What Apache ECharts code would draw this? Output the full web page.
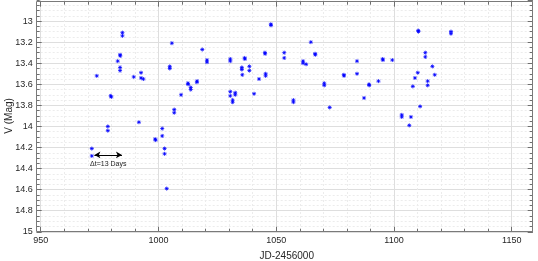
<!DOCTYPE html>
<html>
<head>
<meta charset="utf-8">
<script src="https://cdn.jsdelivr.net/npm/echarts@6/dist/echarts.min.js"></script>
<style>
html,body{margin:0;padding:0;background:#fff;}
#chart{width:538px;height:261px;}
</style>
</head>
<body>
<div id="chart"></div>
<script>
// Observation dates (JD-2456000)
const jd = [
  971.7, 971.7, 973.8, 979.7, 980.0, 978.5, 978.5, 982.7, 983.7, 983.8,
  983.7, 983.7, 984.7, 984.7, 989.5, 991.7, 992.6, 992.6, 993.6, 998.6,
  998.8, 1001.6, 1001.6, 1002.6, 1002.6, 1003.5, 1004.8, 1004.8, 1005.7, 1006.7,
  1006.7, 1009.6, 1012.5, 1012.6, 1013.7, 1013.7, 1016.4, 1016.3, 1018.6, 1020.6,
  1020.6, 1030.5, 1030.5, 1030.5, 1030.5, 1032.6, 1032.6, 1031.5, 1031.5, 1035.4,
  1035.4, 1035.6, 1036.6, 1036.7, 1038.6, 1038.6, 1040.6, 1042.7, 1045.2, 1045.3,
  1045.5, 1045.5, 1047.7, 1047.8, 1053.4, 1053.4, 1057.3, 1057.3, 1061.4, 1061.4,
  1062.7, 1064.7, 1066.5, 1066.6, 1070.4, 1070.4, 1072.7, 1078.7, 1078.8, 1084.3,
  1084.3, 1087.3, 1089.4, 1089.5, 1093.4, 1095.2, 1095.3, 1099.3, 1103.3, 1103.3,
  1106.5, 1107.2, 1108.0, 1108.9, 1110.1, 1110.3, 1110.4, 1111.1, 1113.3, 1113.3,
  1114.3, 1114.3, 1116.3, 1117.3, 1124.2, 1124.2
];
// V magnitudes
const vmag = [
  14.21, 14.28, 13.52, 13.71, 13.72, 14.00, 14.04, 13.38, 13.32, 13.33,
  13.44, 13.47, 13.11, 13.14, 13.53, 13.96, 13.49, 13.54, 13.55, 14.12,
  14.13, 14.02, 14.09, 14.21, 14.26, 14.59, 13.43, 13.45, 13.21, 13.84,
  13.87, 13.70, 13.59, 13.60, 13.63, 13.65, 13.57, 13.58, 13.27, 13.37,
  13.39, 13.36, 13.38, 13.67, 13.71, 13.68, 13.70, 13.75, 13.77, 13.44,
  13.46, 13.51, 13.35, 13.36, 13.43, 13.47, 13.69, 13.55, 13.30, 13.31,
  13.50, 13.52, 13.03, 13.04, 13.30, 13.35, 13.75, 13.77, 13.38, 13.40,
  13.41, 13.20, 13.31, 13.32, 13.59, 13.61, 13.82, 13.51, 13.52, 13.38,
  13.50, 13.73, 13.60, 13.61, 13.57, 13.36, 13.37, 13.37, 13.89, 13.91,
  13.99, 13.91, 13.62, 13.54, 13.49, 13.09, 13.10, 13.81, 13.30, 13.34,
  13.57, 13.61, 13.43, 13.51, 13.10, 13.12
];
// Annotation: time-span arrow
const arrowStart = [972.8, 14.27];
const arrowEnd = [984.5, 14.27];
const arrowLabelPos = [978.7, 14.36];
const arrowLabel = 'Δt=13 Days';

const xMin = 950, xMax = 1158.9;
const yMin = 12.8, yMax = 15;

const FONT = 'Liberation Sans, Arial, Helvetica, sans-serif';
const TICK = '#6f6f6f';

const points = jd.map((x, i) => [x, vmag[i]]);

function xAx(opts) {
  return Object.assign({
    type: 'value', min: xMin, max: xMax, gridIndex: 0,
    axisLine: {show: false},
    axisLabel: {show: false},
    splitLine: {show: false},
    axisTick: {show: true, inside: true, length: 3, lineStyle: {color: TICK, width: 1}}
  }, opts);
}
function yAx(opts) {
  return Object.assign({
    type: 'value', min: yMin, max: yMax, inverse: true, gridIndex: 0,
    axisLine: {show: false},
    axisLabel: {show: false},
    splitLine: {show: false},
    axisTick: {show: true, inside: true, length: 3, lineStyle: {color: TICK, width: 1}}
  }, opts);
}

const chart = echarts.init(document.getElementById('chart'), null, {renderer: 'canvas'});
chart.setOption({
  animation: false,
  backgroundColor: '#ffffff',
  grid: {left: 40.7, right: 5.3, top: 0, bottom: 29.2, containLabel: false, outerBoundsMode: 'none'},
  xAxis: [
    xAx({position: 'bottom', interval: 10,
      splitLine: {show: true, lineStyle: {color: '#ececec', width: 1, type: [2, 2]}}}),
    xAx({position: 'bottom', interval: 50,
      axisTick: {show: true, inside: true, length: 5, lineStyle: {color: TICK, width: 1}},
      splitLine: {show: true, lineStyle: {color: '#dedede', width: 1}},
      axisLabel: {show: true, fontSize: 9, color: '#262626', fontFamily: FONT, margin: 4,
        showMaxLabel: false,
        formatter: v => (Math.abs(v / 50 - Math.round(v / 50)) < 1e-6 ? String(Math.round(v)) : '')},
      name: 'JD-2456000', nameLocation: 'middle', nameGap: 19, nameMoveOverlap: false,
      nameTextStyle: {fontSize: 10, color: '#262626', fontFamily: FONT}}),
    xAx({position: 'top', offset: -1.7, interval: 10}),
    xAx({position: 'top', offset: -1.7, interval: 50,
      axisTick: {show: true, inside: true, length: 5, lineStyle: {color: TICK, width: 1}}})
  ],
  yAxis: [
    yAx({position: 'left', offset: 4, interval: 0.05,
      splitLine: {show: true, showMinLine: false, lineStyle: {color: '#ececec', width: 1, type: [2, 2]}}}),
    yAx({position: 'left', offset: 4, interval: 0.2,
      axisTick: {show: true, inside: true, length: 5, lineStyle: {color: TICK, width: 1}},
      splitLine: {show: true, showMinLine: false, lineStyle: {color: '#dedede', width: 1}},
      axisLabel: {show: true, fontSize: 9, color: '#262626', fontFamily: FONT, margin: 4,
        showMinLabel: false,
        formatter: v => String(Math.round(v * 10) / 10)},
      name: 'V (Mag)', nameLocation: 'middle', nameGap: 22, nameRotate: 90, nameMoveOverlap: false,
      nameTextStyle: {fontSize: 10, color: '#262626', fontFamily: FONT}}),
    yAx({position: 'right', interval: 0.05}),
    yAx({position: 'right', interval: 0.2,
      axisTick: {show: true, inside: true, length: 5, lineStyle: {color: TICK, width: 1}}})
  ],
  graphic: [{
    type: 'rect', z: 100, silent: true,
    shape: {x: 36.5, y: 1.5, width: 496, height: 230},
    style: {fill: 'none', stroke: '#7a7a7a', lineWidth: 1}
  }],
  series: [{
    type: 'scatter',
    xAxisIndex: 1, yAxisIndex: 1,
    data: points,
    symbol: 'path://M5,0L5,10M0,5L10,5M1.5,1.5L8.5,8.5M1.5,8.5L8.5,1.5',
    symbolSize: 4,
    itemStyle: {color: 'rgba(0,0,255,0)', borderColor: '#0000ff', borderWidth: 1},
    markLine: {
      silent: true,
      symbol: ['arrow', 'arrow'],
      symbolSize: [5, 6],
      label: {show: false},
      lineStyle: {color: '#000', width: 1, type: 'solid'},
      data: [[{coord: arrowStart}, {coord: arrowEnd}]]
    },
    markPoint: {
      silent: true,
      symbol: 'circle', symbolSize: 0,
      label: {show: true, position: 'inside', formatter: arrowLabel, fontSize: 7,
        color: '#222', fontFamily: FONT},
      data: [{coord: arrowLabelPos}]
    }
  }]
});
</script>
</body>
</html>
